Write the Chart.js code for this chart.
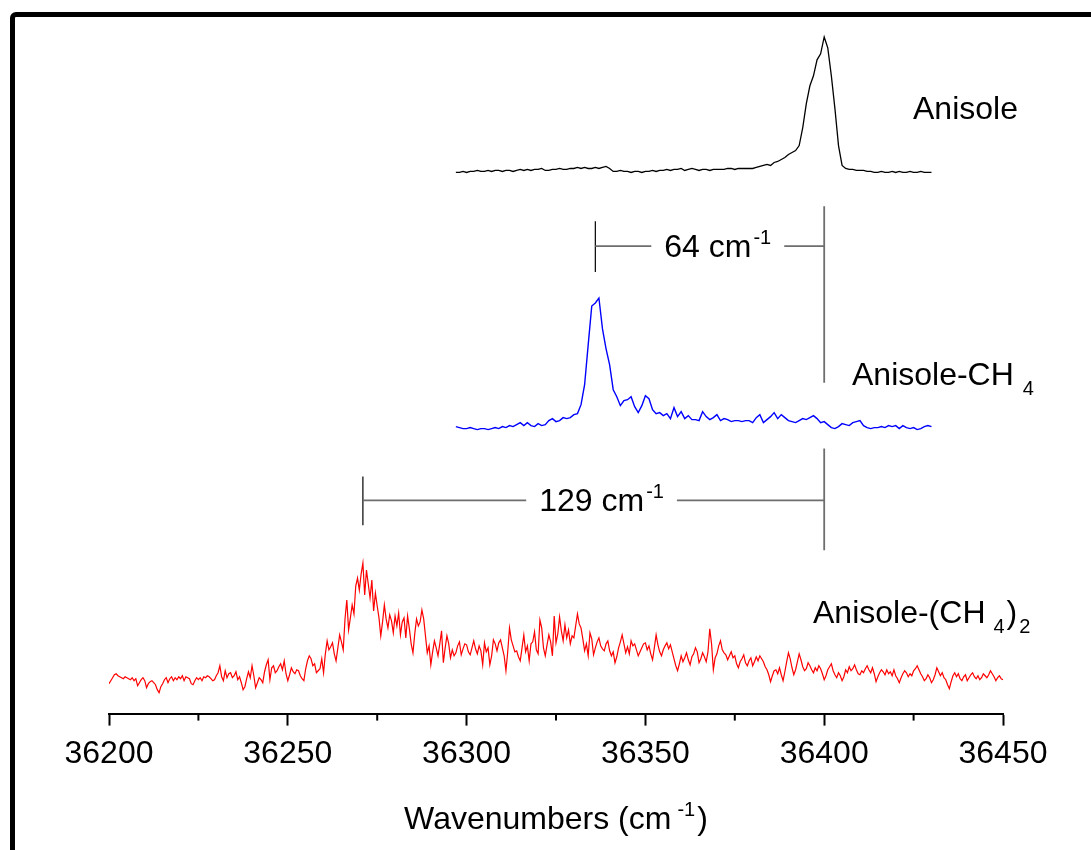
<!DOCTYPE html>
<html>
<head>
<meta charset="utf-8">
<script src="https://cdn.jsdelivr.net/npm/chart.js@4.4.1/dist/chart.umd.min.js"></script>
<style>
  html, body { margin: 0; padding: 0; background: #fff; overflow: hidden; }
  #wrap { position: relative; width: 1091px; height: 850px; }
  #frame {
    position: absolute; left: 10px; top: 12px; width: 1200px; height: 1000px;
    border: 5px solid #000; border-radius: 6px; box-sizing: border-box;
  }
  canvas { position: absolute; left: 0; top: 0; }
</style>
</head>
<body>
<div id="wrap">
  <div id="frame"></div>
  <canvas id="spectrum" width="1091" height="850"></canvas>
</div>
<script>
// x range and tick labels (cm-1)
const xTicks = [36200, 36250, 36300, 36350, 36400, 36450];

// Anisole: 36297 .. 36430, every 1 cm-1
const anisoleStart = 36297;
const anisoleStep = 1;
const anisole = [
  543,543,544,543,544,544,545,544,544,545, 544,545,545,544,545,545,544,545,546,545,
  546,545,546,546,547,545,545,546,546,547, 546,546,547,547,548,547,548,547,547,548,
  547,548,549,547,544,544,545,544,544,543, 544,544,543,544,544,545,544,545,545,546,
  545,546,546,547,545,546,547,546,545,546, 546,545,546,546,546,546,547,547,546,547,
  547,547,547,547,548,549,550,551,550,553, 554,556,558,561,563,565,570,588,612,630,
  640,656,662,679,668,640,607,570,550,547, 546,546,545,545,545,544,544,543,543,544,
  543,543,544,543,544,543,543,544,543,543, 544,543,543,543
];

// Anisole-CH4: 36297 .. 36430, every 1 cm-1
const ch4Start = 36297;
const ch4Step = 1;
const anisoleCH4 = [
  288,287,286,286,287,286,285,286,286,285, 286,287,286,288,287,289,288,290,292,289,
  292,289,288,291,289,290,294,296,293,294, 297,296,297,300,301,310,330,370,409,412,
  417,386,366,350,325,318,309,314,315,318, 308,302,309,319,316,305,301,302,299,301,
  296,307,298,303,296,299,295,295,294,303, 298,295,297,300,294,296,295,293,294,294,
  293,294,294,292,297,300,292,295,298,302, 296,300,297,294,293,292,294,296,295,297,
  299,296,292,293,290,287,286,288,291,290, 289,292,293,294,289,287,286,287,287,288,
  287,289,288,289,286,289,287,286,287,285, 286,288,289,288
];

// Anisole-(CH4)2: 36200 .. 36450, every 0.5 cm-1
const ch42Start = 36200;
const ch42Step = 0.5;
const anisoleCH42 = [
  30,33,36,39,40,38,37,36,35,37,36,35,34,36,33,35,28,31,34,36,
  33,26,30,32,33,31,29,24,21,27,30,34,36,31,35,37,33,36,34,37,
  35,38,33,37,36,35,30,29,33,36,34,36,33,37,36,38,37,35,33,34,
  38,41,48,37,33,43,36,40,41,36,38,42,34,37,31,24,27,35,42,36,
  48,38,26,31,36,34,31,42,49,54,34,46,48,41,43,47,50,44,53,40,
  33,39,46,42,40,44,43,38,35,33,45,53,58,55,48,50,41,43,45,55,
  41,60,73,64,67,71,60,53,66,79,72,64,95,114,84,96,109,100,128,136,
  124,140,151,119,144,130,116,134,103,121,108,96,78,92,109,95,86,99,93,81,
  98,88,101,79,92,96,76,98,85,70,61,80,95,88,92,104,95,78,61,68,
  49,62,73,66,58,70,83,51,66,78,70,56,64,58,61,68,72,59,65,70,
  69,62,59,66,73,65,60,68,63,49,71,62,66,49,58,74,70,63,71,74,
  66,58,43,62,86,74,68,62,63,57,53,66,79,62,68,53,70,72,82,64,
  60,94,86,66,58,69,79,72,58,98,71,80,97,83,73,89,76,84,70,78,
  76,88,100,90,86,75,63,70,58,81,75,59,66,72,76,68,65,63,70,73,
  63,58,62,51,57,66,72,79,70,61,67,60,73,68,70,64,58,62,66,70,
  71,64,68,60,54,66,79,69,62,58,64,68,71,65,69,62,55,48,43,50,
  58,52,56,61,54,49,57,60,66,62,51,55,61,57,52,62,85,70,44,56,
  60,68,73,64,61,59,54,58,62,56,58,50,46,52,55,59,51,48,53,56,
  48,52,57,53,58,55,52,47,44,39,32,38,43,44,40,46,39,33,42,52,
  61,55,46,39,44,52,60,54,47,43,45,51,48,44,41,46,43,48,45,40,
  34,38,44,47,50,43,39,36,41,38,33,37,44,41,47,43,45,49,44,40,
  39,43,41,45,48,44,41,46,40,32,37,41,44,42,39,44,40,42,38,44,
  38,35,31,36,40,43,41,37,40,38,43,45,48,44,40,37,33,35,39,36,
  31,34,39,46,42,38,41,36,34,29,25,32,38,41,37,40,35,33,37,39,
  33,36,39,41,37,35,38,34,36,40,38,36,39,43,40,37,33,36,38,35,
  34
];

// shift brackets: band origins (cm-1) and the measured shifts
const shiftFrom = [36336, 36271];
const shiftTo = [36400, 36400];
const shiftText = ['64', '129'];

function toPoints(start, step, ys) {
  return ys.map((y, i) => ({ x: start + i * step, y: y }));
}

const FONT = '"Liberation Sans", Arial, sans-serif';
const BIG = 32, SMALL = 20;

function richWidth(ctx, parts) {
  let w = 0;
  parts.forEach(p => {
    ctx.font = (p.s ? SMALL : BIG) + 'px ' + FONT;
    w += ctx.measureText(p.t).width + (p.gap || 0);
  });
  return w;
}
// text pieces with sup/sub, left aligned at x, baseline y
function drawRich(ctx, parts, x, y) {
  ctx.textAlign = 'left';
  ctx.textBaseline = 'alphabetic';
  parts.forEach(p => {
    ctx.font = (p.s ? SMALL : BIG) + 'px ' + FONT;
    x += p.gap || 0;
    let dy = 0;
    if (p.s === 'sup') dy = -13;
    if (p.s === 'sub') dy = 10;
    ctx.fillText(p.t, x, y + dy);
    x += ctx.measureText(p.t).width;
  });
}

const annotations = {
  id: 'annotations',
  afterDraw(chart) {
    const ctx = chart.ctx;
    const xs = chart.scales.x, ys = chart.scales.y;
    const X = v => xs.getPixelForValue(v), Y = v => ys.getPixelForValue(v);
    ctx.save();

    // minor ticks
    ctx.strokeStyle = '#000';
    ctx.lineWidth = 2;
    [36225, 36275, 36325, 36375, 36425].forEach(v => {
      ctx.beginPath();
      ctx.moveTo(X(v), ys.bottom);
      ctx.lineTo(X(v), ys.bottom + 7);
      ctx.stroke();
    });

    // shift brackets
    const lineY = [469, 214];
    const leftSpan = [[443, 494], [189, 238]];
    const rightSpan = [[332, 509], [164, 266]];
    for (let i = 0; i < shiftFrom.length; i++) {
      const x0 = X(shiftFrom[i]), x1 = X(shiftTo[i]), y = Y(lineY[i]);
      const parts = [{ t: shiftText[i] + ' cm' }, { t: '-1', s: 'sup', gap: 2 }];
      const w = richWidth(ctx, parts);
      const cx = (x0 + x1) / 2 + 8;
      ctx.strokeStyle = '#000';
      ctx.lineWidth = 1.2;
      ctx.beginPath();
      ctx.moveTo(x0, Y(leftSpan[i][1]));
      ctx.lineTo(x0, Y(leftSpan[i][0]));
      ctx.stroke();
      ctx.strokeStyle = '#6e6e6e';
      ctx.lineWidth = 1.8;
      ctx.beginPath();
      ctx.moveTo(x0, y); ctx.lineTo(cx - w / 2 - 13, y);
      ctx.moveTo(cx + w / 2 + 13, y); ctx.lineTo(x1, y);
      ctx.moveTo(x1, Y(rightSpan[i][1])); ctx.lineTo(x1, Y(rightSpan[i][0]));
      ctx.stroke();
      ctx.fillStyle = '#000';
      drawRich(ctx, parts, cx - w / 2, y + 11);
    }

    // trace labels
    ctx.fillStyle = '#000';
    drawRich(ctx, [{ t: 'Anisole' }], 913, 119);
    drawRich(ctx, [{ t: 'Anisole-CH' }, { t: '4', s: 'sub', gap: 9 }], 852, 385);
    drawRich(ctx, [{ t: 'Anisole-(CH' }, { t: '4', s: 'sub', gap: 8 }, { t: ')', gap: 2 }, { t: '2', s: 'sub', gap: 2 }], 813, 623);

    // axis title
    const tParts = [{ t: 'Wavenumbers (cm' }, { t: '-1', s: 'sup', gap: 6 }, { t: ')', gap: 2 }];
    const tw = richWidth(ctx, tParts);
    drawRich(ctx, tParts, (xs.left + xs.right) / 2 - tw / 2, 829);
    ctx.restore();
  }
};

new Chart(document.getElementById('spectrum'), {
  type: 'line',
  data: {
    datasets: [
      { label: 'Anisole', data: toPoints(anisoleStart, anisoleStep, anisole), borderColor: '#000000', borderWidth: 1.3 },
      { label: 'Anisole-CH4', data: toPoints(ch4Start, ch4Step, anisoleCH4), borderColor: '#0000ff', borderWidth: 1.4 },
      { label: 'Anisole-(CH4)2', data: toPoints(ch42Start, ch42Step, anisoleCH42), borderColor: '#ff0000', borderWidth: 1.2 }
    ]
  },
  options: {
    responsive: false,
    animation: false,
    layout: { padding: { left: 109, right: 88, top: 16, bottom: 68 } },
    elements: { point: { radius: 0 }, line: { tension: 0 } },
    plugins: { legend: { display: false }, tooltip: { enabled: false } },
    scales: {
      x: {
        type: 'linear',
        min: 36200,
        max: 36450,
        afterBuildTicks: axis => { axis.ticks = xTicks.map(v => ({ value: v })); },
        ticks: {
          color: '#000', font: { family: FONT, size: 32 }, padding: 9,
          maxRotation: 0, autoSkip: false, callback: v => String(v)
        },
        grid: { drawOnChartArea: false, tickLength: 12, tickWidth: 2, tickColor: '#000' },
        border: { color: '#000', width: 2 }
      },
      y: { display: false, min: 0, max: 700 }
    }
  },
  plugins: [annotations]
});
</script>
</body>
</html>
